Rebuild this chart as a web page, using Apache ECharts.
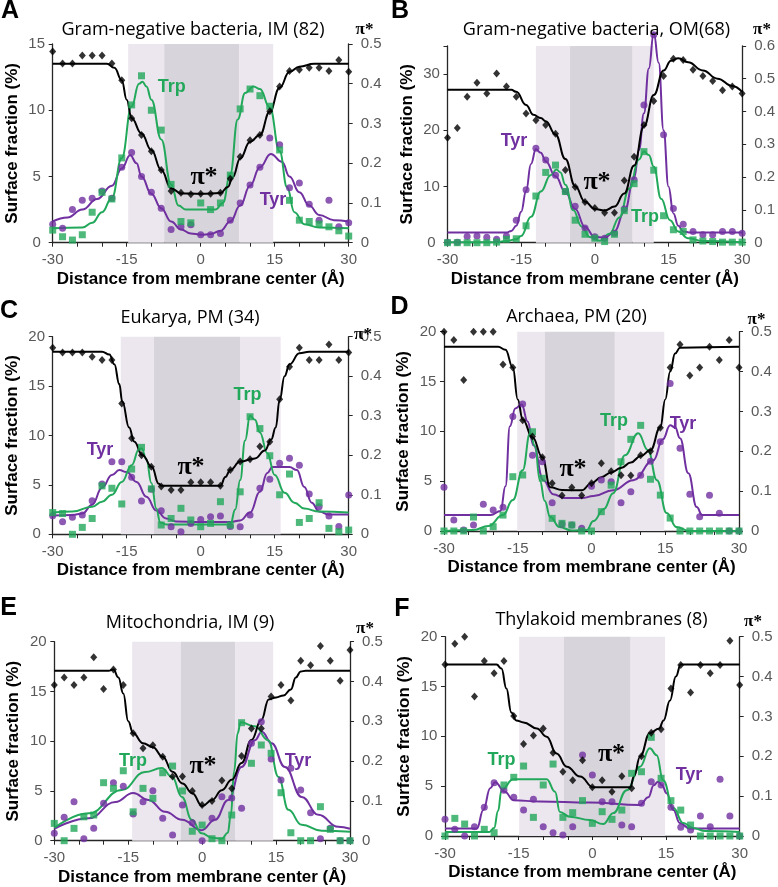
<!DOCTYPE html>
<html><head><meta charset="utf-8">
<script src="https://cdn.jsdelivr.net/npm/echarts/dist/echarts.min.js"></script>
<style>html,body{margin:0;padding:0;background:#fff}#c{width:778px;height:887px}</style>
</head><body><div id="c"></div>
<script>
// ---------- DATA ----------
const xPos = [-30,-28,-26,-24,-22,-20,-18,-16,-14,-12,-10,-8,-6,-4,-2,0,2,4,6,8,10,12,14,16,18,20,22,24,26,28,30];

// Panel A: Gram-negative bacteria, IM (82)
const A_piStar = [0.481,0.451,0.451,0.471,0.471,0.471,0.451,0.409,0.313,0.271,0.230,0.183,0.130,0.126,0.122,0.123,0.123,0.126,0.161,0.216,0.258,0.271,0.331,0.393,0.432,0.435,0.440,0.440,0.432,0.460,0.430];
const A_trp = [0.95,0.45,0.2,0.6,2.3,3.8,3.3,6.4,10.4,12.6,10.0,8.5,4.4,1.6,1.5,3.0,2.5,3.0,5.1,10.1,11.6,11.1,10.3,7.0,3.2,1.7,1.6,1.4,1.2,0.9,0.5];
const A_tyr = [1.4,1.1,2.5,3.2,3.35,3.9,3.35,5.7,6.8,5.0,3.8,2.6,1.0,1.2,1.35,0.6,0.6,0.7,1.7,3.0,4.35,5.7,7.9,7.4,4.15,4.5,2.9,1.7,3.2,1.2,1.5];
const A_piFit = [[-30,0.45],[-19,0.45],[-17.5,0.44],[-16,0.409],[-15,0.36],[-14,0.313],[-12,0.275],[-10,0.233],[-8,0.183],[-6,0.137],[-4,0.124],[0,0.123],[4,0.125],[5.5,0.14],[6.5,0.165],[8,0.212],[10,0.254],[12,0.271],[14,0.33],[16,0.39],[18,0.43],[20,0.443],[23,0.45],[30,0.45]];
const A_trpFit = [[-30,1.1],[-24,1.15],[-22,1.5],[-20,2.3],[-18,3.4],[-16,6.4],[-14,10.3],[-12.5,12.0],[-11.8,12.15],[-11,11.8],[-10,10.8],[-8,7.8],[-6,4.4],[-4.5,2.8],[-3,2.5],[3,2.5],[4.5,3],[6,5.2],[7.5,9.3],[9,11.3],[10.7,11.8],[12,11.6],[14,10.2],[16,6.9],[17.5,4.2],[19,2.3],[21,1.4],[24,1.15],[30,1.1]];
const A_tyrFit = [[-30,1.6],[-27,1.9],[-24,2.5],[-21,3.3],[-18,4.3],[-16,5.6],[-14.3,6.6],[-13,6.0],[-12,5.0],[-10,3.7],[-8,2.6],[-6,1.6],[-4,1.0],[-2,0.7],[0,0.6],[2,0.65],[4,0.9],[6,1.6],[8,2.8],[10,4.3],[12,5.7],[14.2,6.7],[16.5,6.1],[18,5.0],[20,3.8],[22,2.8],[24,2.1],[27,1.7],[30,1.6]];

// Panel B: Gram-negative bacteria, OM(68)
const B_piStar = [0.32,0.35,0.445,0.488,0.455,0.516,0.476,0.445,0.394,0.373,0.359,0.332,0.222,0.170,0.124,0.106,0.091,0.091,0.190,0.262,0.359,0.432,0.508,0.561,0.557,0.527,0.508,0.493,0.465,0.476,0.455];
const B_trp = [0,0,0,0,0,0.1,0.6,0.7,3.0,8.3,12.5,13.8,9.1,4.0,1.5,0.8,0.2,1.5,5.7,10.5,16.2,12.9,4.8,2.3,2.0,0.5,0.3,0.2,0.1,0.1,0.1];
const B_tyr = [0.1,0.1,1.1,1.2,0.95,0.6,1.2,4.0,9.4,16.8,14.7,12.0,9.1,6.5,2.6,1.05,0.8,1.7,6.0,11.2,24.5,37.0,19.2,6.1,3.3,2.0,1.4,1.4,2.0,2.0,1.7];
const B_piFit = [[-30,0.466],[-17,0.466],[-16,0.46],[-14,0.42],[-12.5,0.39],[-11,0.38],[-10,0.37],[-8,0.33],[-6,0.255],[-4,0.172],[-2,0.125],[0,0.103],[2,0.098],[4,0.11],[6,0.15],[8,0.235],[10,0.355],[12,0.45],[14,0.525],[15.5,0.555],[17,0.562],[19,0.55],[22,0.525],[25,0.5],[28,0.478],[30,0.46]];
const B_trpFit = [[-30,0.1],[-20,0.1],[-18,0.3],[-16,0.6],[-15,1.2],[-13,4.6],[-11,9.1],[-9,12.0],[-7.8,13.0],[-7,12.5],[-6,10.3],[-4.4,5.8],[-2.7,2.9],[-1,1.0],[1,0.35],[3,1.6],[5,4.5],[7,9.6],[9,14.8],[10,16.2],[11,15.6],[12,13.5],[13.5,7.8],[15.3,4.0],[17,2.0],[19,0.8],[22,0.3],[30,0.1]];
const B_tyrFit = [[-30,1.8],[-18,1.8],[-17,2.1],[-16,3.0],[-15,5.5],[-14,9.2],[-13,14],[-12,16.6],[-11,16.0],[-10,14.5],[-8,11.8],[-6,9.0],[-4,6.0],[-2,2.8],[0,1.0],[2,0.9],[4,2.0],[6,5.5],[8,11.5],[9,16.5],[10,23],[11,31],[12,37.3],[13,32],[14,20],[15,10],[16,5.2],[17,3.0],[18,2.0],[19.5,1.8],[30,1.8]];

// Panel C: Eukarya, PM (34)
const C_piStar = [0.472,0.46,0.46,0.46,0.449,0.441,0.441,0.331,0.243,0.2,0.171,0.121,0.112,0.112,0.132,0.132,0.132,0.123,0.163,0.184,0.19,0.222,0.234,0.342,0.424,0.472,0.441,0.441,0.48,0.441,0.46];
const C_trp = [2.2,2.1,0,0.7,1.6,4.9,4.66,3.07,6.6,8.8,4.6,0.94,1.6,2.63,1.45,0.77,1.1,3.3,0.94,4.3,11.9,10.7,7.95,4.0,6.1,1.2,1.6,3.2,0.6,0.26,0.43];
const C_tyr = [1.89,1.28,1.72,1.95,3.4,5.1,7.35,7.35,5.77,3.37,4.55,2.39,0.77,0.26,1.1,1.5,1.78,1.85,0.8,0.77,1.95,4.65,5.57,7.19,7.69,7.0,4.08,2.8,1.85,0.8,3.98];
const C_piFit = [[-30,0.462],[-20,0.462],[-18.5,0.455],[-17.5,0.43],[-16.5,0.38],[-15.9,0.336],[-14.5,0.27],[-13.5,0.235],[-11.8,0.2],[-9.9,0.17],[-8.5,0.128],[-8,0.123],[4,0.123],[5,0.145],[6,0.163],[8,0.184],[11,0.192],[13,0.212],[14.3,0.24],[15.2,0.27],[16,0.34],[17,0.4],[18,0.43],[20,0.458],[22,0.462],[30,0.462]];
const C_trpFit = [[-30,2.2],[-26,2.3],[-22,2.8],[-20,3.3],[-18,4.0],[-16,5.3],[-14,7.0],[-12.5,8.6],[-12,8.7],[-11,7.6],[-10,5.2],[-9,2.6],[-8.2,1.2],[-7,1.0],[6,1.0],[7,2.5],[8,5.5],[9,9.5],[10,12.0],[11,11.6],[12,10.3],[13.5,8.2],[15,6.0],[17,4.2],[19,3.2],[21,2.6],[24,2.3],[30,2.2]];
const C_tyrFit = [[-30,1.9],[-26,1.95],[-24,2.1],[-22,3.0],[-20,4.7],[-18,6.0],[-16.5,6.5],[-15,6.3],[-13,5.3],[-11,3.8],[-9,2.4],[-7,1.6],[-5,1.3],[0,1.25],[6,1.25],[8,1.4],[10,2.2],[12,4.3],[13.5,6.2],[14.5,6.8],[18,6.8],[19.5,6.5],[21,4.8],[22.5,3.2],[24,2.3],[26,2.0],[30,2.0]];

// Panel D: Archaea, PM (20)
const D_piStar = [0.5,0.479,0.379,0.5,0.5,0.5,0.418,0.41,0.278,0.237,0.185,0.12,0.089,0.109,0.089,0.12,0.17,0.15,0.14,0.139,0.19,0.2,0.259,0.41,0.468,0.39,0.41,0.462,0.429,0.479,0.41];
const D_trp = [0,0,0,1.4,0,0.43,1.6,5.45,5.62,9.96,5.29,1.27,0.77,0.6,0,0,1.94,4.6,6.95,9.2,10.6,5.19,3.6,1.3,0,0,0,0,0,0,0];
const D_tyr = [4.38,1.1,0.1,0.6,2.68,2.1,2.38,11.5,12.75,7.6,6.95,2.84,0.7,0.6,0.27,4.5,5.12,4.95,2.84,3.94,5.6,7.0,8.96,14.8,8.3,3.7,1.44,3.6,1.77,0,0];
const D_piFit = [[-30,0.462],[-19,0.462],[-17.5,0.455],[-16,0.41],[-15,0.33],[-14,0.28],[-12,0.235],[-10,0.185],[-8.4,0.11],[-6,0.103],[-2,0.102],[0,0.12],[2,0.135],[4,0.147],[6,0.158],[8,0.172],[10,0.188],[12,0.203],[14,0.26],[15,0.33],[16,0.4],[17,0.445],[18,0.46],[30,0.462]];
const D_trpFit = [[-30,0],[-24,0.1],[-21,0.5],[-18,1.6],[-16,3.1],[-14,6.1],[-12.5,9.8],[-11.5,8.5],[-10.5,5.1],[-9.5,3.0],[-8.4,1.4],[-6.5,0.4],[-4,0.05],[-1,0.1],[0.4,1.0],[2.5,2.2],[4.4,3.8],[6.8,7.6],[9.5,9.8],[11.5,8.1],[13.3,5.1],[15.3,1.8],[17.3,0.4],[20,0],[30,0]];
const D_tyrFit = [[-30,1.6],[-20.5,1.6],[-18.5,2.0],[-17.5,4.5],[-16.6,10.5],[-15.5,12.3],[-14.2,12.7],[-13,11],[-11.8,8.6],[-9.8,5.1],[-7.8,3.7],[-5.5,3.3],[-2,3.3],[0.4,3.5],[4.4,4.1],[8.5,5.1],[12.6,7.1],[14.5,9.2],[16,10.6],[17,10.4],[18,9.3],[19.7,5.8],[21.4,2.4],[22.5,1.6],[30,1.6]];

// Panel E: Mitochondria, IM (9)
const E_piStar = [0.391,0.41,0.391,0.41,0.461,0.381,0.43,0.391,0.27,0.232,0.24,0.211,0.161,0.161,0.125,0.09,0.1,0.151,0.131,0.213,0.282,0.282,0.362,0.391,0.352,0.452,0.441,0.489,0.452,0.402,0.479];
const E_trp = [1.74,0,1.24,2.4,2.58,5.83,5.26,7.03,2.9,5.26,4.26,6.83,7.5,5.0,0.95,1.57,0.2,0,2.58,11.86,7.78,9.62,8.78,4.82,0.8,0,0,3.42,1.14,0,0];
const E_tyr = [0.74,2.35,3.92,0.2,1.25,3.76,5.83,5.46,2.68,3.92,5.03,2.25,0.57,3.59,1.8,0,2.25,4.42,4.3,3.26,9.79,11.96,8.2,6.1,7.28,5.1,2.81,0.2,1.25,0,0];
const E_piFit = [[-30,0.427],[-19,0.427],[-18,0.43],[-17,0.41],[-16,0.37],[-15,0.3],[-14,0.27],[-12,0.245],[-10,0.235],[-8,0.211],[-6,0.173],[-4,0.144],[-2,0.119],[0,0.087],[2,0.102],[4,0.127],[6,0.153],[8,0.195],[10,0.253],[12,0.303],[13.5,0.355],[15,0.36],[16.5,0.365],[18,0.38],[19,0.41],[20,0.425],[21,0.427],[30,0.427]];
const E_trpFit = [[-30,1.3],[-23,2.75],[-16.3,5.1],[-11.6,6.9],[-8.2,7.3],[-6.1,6.4],[-4.1,4.4],[-2.1,2.1],[-0.1,0.74],[2,0.3],[4,0.2],[5.2,0.8],[5.8,2.5],[6.5,7.0],[7.2,10.8],[7.8,11.9],[10.7,11.5],[13.4,10.1],[15.5,6.4],[17.5,3.1],[20.2,1.6],[24.3,1.0],[30,0.9]];
const E_tyrFit = [[-30,1.2],[-23,2.25],[-17.6,3.9],[-14,4.8],[-10.9,4.1],[-7.5,2.9],[-4.1,2.1],[-0.1,1.05],[2.6,2.1],[5.3,4.1],[8,7.4],[10.7,10.1],[12.1,10.95],[14.1,9.8],[16.8,7.4],[20.2,4.4],[23.6,2.6],[27.6,1.4],[30,1.2]];

// Panel F: Thylakoid membranes (8)
const F_piStar = [0.43,0.482,0.5,0.35,0.439,0.408,0.439,0.301,0.231,0.252,0.27,0.209,0.161,0.14,0.19,0.122,0.14,0.111,0.15,0.12,0.2,0.259,0.268,0.37,0.429,0.36,0.429,0.408,0.429,0.49,0.379];
const F_trp = [0,1.77,1.2,0,0.67,0.33,5.12,5.89,7.02,1.87,5.12,7.22,1.87,2.34,3.55,1.27,2.44,1.67,2.6,6.29,6.45,9.9,5.79,3.55,2.6,1.1,0,0,0,0,0];
const F_tyr = [1.67,0.67,0,0.94,2.88,5.35,4.6,3.88,2.6,3.68,0.94,0.33,0.1,0.94,8.13,6.12,3.44,3.44,1.1,0.94,3.28,5.45,5.12,2.88,0.87,0.6,2.0,0.94,5.69,2.0,0];
const F_piFit = [[-30,0.43],[-19.5,0.43],[-18.5,0.42],[-17.5,0.37],[-16.5,0.31],[-15.5,0.29],[-14,0.285],[-11.3,0.27],[-9.3,0.249],[-7.3,0.207],[-5.2,0.174],[-2.5,0.149],[0.2,0.122],[7.7,0.122],[8.5,0.15],[9.7,0.199],[11.7,0.258],[13.6,0.27],[14.5,0.29],[15.8,0.34],[17,0.4],[18,0.43],[30,0.43]];
const F_trpFit = [[-30,0.4],[-21,0.4],[-20,0.8],[-19.2,2.5],[-18.5,4.6],[-16.1,5.7],[-9.3,5.7],[-7.6,4.45],[-6.6,2.4],[-4.6,1.94],[-0.5,1.6],[2.2,1.2],[4.3,2.3],[7,4.6],[9.7,6.95],[11.7,8.8],[13.1,8.1],[14.4,5.6],[16.5,2.8],[18.5,1.3],[20.5,0.8],[23,0.5],[30,0.4]];
const F_tyrFit = [[-30,0.75],[-23.5,0.75],[-22.2,2.6],[-20.8,4.8],[-19.8,5.4],[-17.8,4.45],[-16.1,3.6],[-10.7,3.45],[-0.5,3.35],[9.7,3.1],[11.4,3.9],[12.5,5.1],[13.4,5.45],[14.2,5.1],[15.1,4.3],[16.5,2.6],[17.8,1.3],[19.8,0.75],[30,0.75]];

// membrane zones (Å): outer start, inner start, inner end, outer end
const A_zones = [-14.7,-7.4,7.8,14.7];
const B_zones = [-12,-5.05,7.7,12];
const C_zones = [-16.2,-9.46,7.97,16.2];
const D_zones = [-15.1,-9.5,4.75,14.8];
const E_zones = [-14.2,-4.3,6.7,14.4];
const F_zones = [-14.9,-5.8,7.8,14.8];

const titles = ['Gram-negative bacteria, IM (82)','Gram-negative bacteria, OM(68)','Eukarya, PM (34)','Archaea, PM (20)','Mitochondria, IM (9)','Thylakoid membranes (8)'];
const letters = ['A','B','C','D','E','F'];
const leftMax = [15,35,20,20,20,20];
const leftInterval = [5,10,5,5,5,5];
const rightMax = [0.5,0.6,0.5,0.5,0.5,0.5];

const panelData = [
  {pi:A_piStar,trp:A_trp,tyr:A_tyr,piFit:A_piFit,trpFit:A_trpFit,tyrFit:A_tyrFit,zones:A_zones},
  {pi:B_piStar,trp:B_trp,tyr:B_tyr,piFit:B_piFit,trpFit:B_trpFit,tyrFit:B_tyrFit,zones:B_zones},
  {pi:C_piStar,trp:C_trp,tyr:C_tyr,piFit:C_piFit,trpFit:C_trpFit,tyrFit:C_tyrFit,zones:C_zones},
  {pi:D_piStar,trp:D_trp,tyr:D_tyr,piFit:D_piFit,trpFit:D_trpFit,tyrFit:D_tyrFit,zones:D_zones},
  {pi:E_piStar,trp:E_trp,tyr:E_tyr,piFit:E_piFit,trpFit:E_trpFit,tyrFit:E_tyrFit,zones:E_zones},
  {pi:F_piStar,trp:F_trp,tyr:F_tyr,piFit:F_piFit,trpFit:F_trpFit,tyrFit:F_tyrFit,zones:F_zones}
];

// ---------- LAYOUT ----------
const layout = [
  {grid:{left:52.7,top:44,width:296,height:198.7}, letter:[10,11], title:[193,30], piTop:[364.5,30], trp:[171.7,87.5], tyr:[273,200.5], pi:[204,177]},
  {grid:{left:447.5,top:45.9,width:295,height:196.8}, letter:[400,11], title:[596.5,30], piTop:[762,30], trp:[645,217.5], tyr:[514,141], pi:[597,182]},
  {grid:{left:52.7,top:336.7,width:296,height:197.6}, letter:[9,311], title:[190,318.3], piTop:[363,335], trp:[247.5,395], tyr:[100,450.5], pi:[191,467.5]},
  {grid:{left:444,top:331.7,width:295,height:199.3}, letter:[399.5,307.5], title:[576.5,316.7], piTop:[756.5,320], trp:[614,421.5], tyr:[683,424.5], pi:[573,469]},
  {grid:{left:54.3,top:641.7,width:295.7,height:199}, letter:[8.5,608], title:[190,623.3], piTop:[365,628.5], trp:[133,761.5], tyr:[298,761.5], pi:[203,766]},
  {grid:{left:445,top:636.7,width:294.7,height:199.3}, letter:[402,609], title:[601.5,620], piTop:[753,621.5], trp:[501.5,760], tyr:[689,775], pi:[611.5,754]}
];

const GREEN = '#22A85A', PURPLE = '#7030A0', BLACK = '#000000';
const LIGHT = '#ECE6EE', DARK = '#D8D4DB';
const AXIS = '#262626', TICKTXT = '#595959';
const SANS = '"Liberation Sans", Arial, sans-serif';
const SERIF = '"Liberation Serif", "Times New Roman", serif';

const grids = [], xAxes = [], yAxes = [], series = [], graphics = [];

function txt(x, y, text, font, fill, align) {
  return {type:'text', x:x, y:y, silent:true, z:100,
    style:{text:text, font:font, fill:fill, align:align||'center', verticalAlign:'middle', textAlign:align||'center', textVerticalAlign:'middle'}};
}

panelData.forEach((d, i) => {
  const L = layout[i];
  grids.push(Object.assign({containLabel:false}, L.grid));
  xAxes.push({
    type:'value', gridIndex:i, min:-30, max:30, interval:5,
    name:'Distance from membrane center (Å)', nameLocation:'middle', nameGap:28,
    nameTextStyle:{fontFamily:SANS, fontWeight:'bold', fontSize:17, color:'#000'},
    axisLine:{show:true, onZero:false, lineStyle:{color:AXIS, width:1.3}},
    axisTick:{show:true, inside:false, length:4, lineStyle:{color:AXIS, width:1}},
    axisLabel:{interval:0, margin:10, color:TICKTXT, fontSize:15, fontFamily:SANS,
      formatter:v => (Math.round(v) % 15 === 0 ? String(Math.round(v)) : '')},
    splitLine:{show:false}
  });
  yAxes.push({
    type:'value', gridIndex:i, position:'left', min:0, max:leftMax[i], interval:leftInterval[i],
    name:'Surface fraction (%)', nameLocation:'middle', nameGap:32, nameRotate:90,
    nameTextStyle:{fontFamily:SANS, fontWeight:'bold', fontSize:17, color:'#000'},
    axisLine:{show:true, onZero:false, lineStyle:{color:AXIS, width:1.3}},
    axisTick:{show:true, inside:false, length:4, lineStyle:{color:AXIS, width:1}},
    axisLabel:{margin:16, align:'center', color:TICKTXT, fontSize:15, fontFamily:SANS,
      formatter:v => (v % leftInterval[i] === 0 ? String(v) : '')},
    splitLine:{show:false}
  });
  yAxes.push({
    type:'value', gridIndex:i, position:'right', min:0, max:rightMax[i], interval:0.1,
    axisLine:{show:true, onZero:false, lineStyle:{color:AXIS, width:1.3}},
    axisTick:{show:true, inside:false, length:4, lineStyle:{color:AXIS, width:1}},
    axisLabel:{margin:12, color:TICKTXT, fontSize:15, fontFamily:SANS,
      formatter:v => (v === 0 ? '0' : v.toFixed(1))},
    splitLine:{show:false}
  });
  const z = d.zones;
  series.push({type:'line', xAxisIndex:i, yAxisIndex:2*i, data:[], silent:true, z:1,
    markArea:{silent:true, data:[
      [{xAxis:z[0], itemStyle:{color:LIGHT, opacity:1}},{xAxis:z[1]}],
      [{xAxis:z[1], itemStyle:{color:DARK, opacity:1}},{xAxis:z[2]}],
      [{xAxis:z[2], itemStyle:{color:LIGHT, opacity:1}},{xAxis:z[3]}]
    ]}});
  const lineBase = {type:'line', xAxisIndex:i, showSymbol:false, symbol:'none', smooth:0.45, smoothMonotone:'x', silent:true, z:3};
  series.push(Object.assign({}, lineBase, {yAxisIndex:2*i, data:d.tyrFit, lineStyle:{color:PURPLE, width:2}, clip:false}));
  series.push(Object.assign({}, lineBase, {yAxisIndex:2*i, data:d.trpFit, lineStyle:{color:GREEN, width:2}}));
  series.push(Object.assign({}, lineBase, {yAxisIndex:2*i+1, data:d.piFit, lineStyle:{color:BLACK, width:2}}));
  series.push({type:'scatter', xAxisIndex:i, yAxisIndex:2*i, data:xPos.map((x,k)=>[x,d.tyr[k]]), symbol:'circle', symbolSize:7, itemStyle:{color:PURPLE}, silent:true, z:4, clip:false});
  series.push({type:'scatter', xAxisIndex:i, yAxisIndex:2*i, data:xPos.map((x,k)=>[x,d.trp[k]]), symbol:'rect', symbolSize:7, itemStyle:{color:GREEN}, silent:true, z:5, clip:false});
  series.push({type:'scatter', xAxisIndex:i, yAxisIndex:2*i+1, data:xPos.map((x,k)=>[x,d.pi[k]]), symbol:'diamond', symbolSize:[7,8], itemStyle:{color:BLACK}, silent:true, z:6, clip:false});

  graphics.push(txt(L.letter[0], L.letter[1], letters[i], 'bold 25px ' + SANS, '#000'));
  graphics.push(txt(L.title[0], L.title[1], titles[i], '18px "Open Sans", ' + SANS, '#000'));
  graphics.push(txt(L.piTop[0], L.piTop[1], 'π*', 'bold 17px ' + SERIF, '#000'));
  graphics.push(txt(L.trp[0], L.trp[1], 'Trp', 'bold 18px ' + SANS, GREEN));
  graphics.push(txt(L.tyr[0], L.tyr[1], 'Tyr', 'bold 18px ' + SANS, PURPLE));
  graphics.push(txt(L.pi[0], L.pi[1], 'π*', 'bold 26px ' + SERIF, '#000'));
});

const chart = echarts.init(document.getElementById('c'), null, {renderer:'canvas', width:778, height:887});
chart.setOption({
  animation:false,
  backgroundColor:'#ffffff',
  grid:grids, xAxis:xAxes, yAxis:yAxes, series:series,
  graphic:{elements:graphics}
});
</script>
</body></html>
